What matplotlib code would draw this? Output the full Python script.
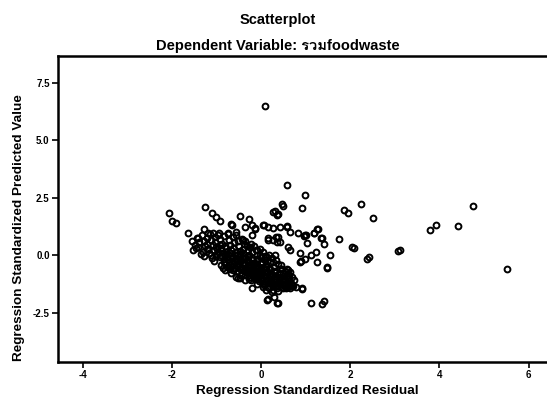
import matplotlib
matplotlib.use("Agg")
import matplotlib.pyplot as plt
from matplotlib import font_manager

# ---- data: (residual, predicted) ----
outlier_x = [0.09, 0.58, 0.99, 0.93, 1.85, 1.94, 2.24, 2.50, 4.75, 3.92, 3.79, 4.42, 5.51,
             3.11, 3.08, 2.03, 2.09, 2.37, 2.42, 1.74, 1.54, 1.49, 1.47, 1.25, 1.23, 1.12,
             0.99, 0.89, 1.27, 1.19, 1.36, 1.41, 1.03, 0.96, 0.93, 1.12, 1.37, 1.41,
             0.16, 0.37, 0.29, 0.69, 0.61, 0.91, 0.13, 0.35]
outlier_y = [6.50, 3.04, 2.60, 2.06, 1.96, 1.81, 2.20, 1.60, 2.13, 1.30, 1.07, 1.26, -0.60,
             0.22, 0.18, 0.33, 0.32, -0.17, -0.09, 0.68, 0.01, -0.57, -0.52, -0.29, 0.13, 0.00,
             -0.19, -0.26, 1.12, 0.97, 0.75, 0.47, 0.51, 0.83, -1.46, -2.07, -2.14, -1.99,
             -1.93, -2.10, -1.81, -1.30, -1.38, -1.45, -1.96, -2.10]

upper_x = [-2.06, -1.99, -1.91, -1.26, -1.10, -1.01, -0.92, -0.68, -1.63, -1.44, -1.27, -1.18,
           -1.07, -0.96, -0.73, -0.47, -0.28, -0.21, -0.13, 0.28, 0.35, 0.46, 0.49, 0.05, 0.16,
           0.28, 0.43, 0.58, 0.65, 0.84, 0.16, 0.28, 0.39, 0.43, 0.61, 0.65, 0.99, 0.87, -0.36,
           -0.66, -0.55, -0.21, -0.40, -0.25, -0.10, -0.02, 0.13, 0.31, 0.31, 0.39, 0.06, -0.14,
           0.15, 0.34, 0.35, 0.58, 1.00, 1.18, 1.26, 1.35, -1.41, 0.87, 0.61, 0.50, -0.55, -0.36,
           -0.21, -0.52, -0.80]
upper_y = [1.83, 1.49, 1.38, 2.10, 1.81, 1.67, 1.48, 1.35, 0.94, 0.75, 1.12, 0.94, 0.94, 0.87,
           0.94, 1.70, 1.55, 1.30, 1.16, 1.88, 1.74, 2.22, 2.15, 1.30, 1.23, 1.16, 1.20, 1.26,
           1.01, 0.94, 0.72, 0.65, 0.80, 0.58, 0.36, 0.22, 0.87, 0.07, 1.23, 1.30, 1.01, 0.87,
           0.65, 0.36, 0.22, 0.00, -0.07, 0.00, 1.91, 1.77, 1.30, 1.13, 0.65, 0.80, 0.57, 1.23,
           0.87, 0.94, 1.12, 0.72, 0.36, -0.29, -0.65, -1.30, -0.94, -1.09, -1.45, -0.99, -0.65]

cluster_x = [-1.55, -1.48, -1.42, -1.45, -1.38, -1.52,
             -1.33, -1.28, -1.25, -1.31, -1.22, -1.35, -1.27, -1.20,
             -1.15, -1.12, -1.08, -1.05, -1.13, -1.02, -1.10, -1.00, -1.06, -0.98,
             -0.95, -0.92, -0.88, -0.90, -0.86, -0.93, -0.84, -0.90, -0.82, -0.80, -0.85, -0.80,
             -0.75, -0.72, -0.70, -0.68, -0.74, -0.66, -0.71, -0.65, -0.70, -0.63, -0.62, -0.60, -0.67, -0.60,
             -0.55, -0.52, -0.50, -0.48, -0.54, -0.46, -0.50, -0.44, -0.52, -0.45, -0.42, -0.40, -0.41, -0.43, -0.47, -0.38,
             -0.35, -0.32, -0.30, -0.28, -0.34, -0.26, -0.30, -0.24, -0.32, -0.25, -0.22, -0.20, -0.21, -0.23, -0.28, -0.19, -0.36,
             -0.15, -0.12, -0.10, -0.08, -0.14, -0.06, -0.10, -0.04, -0.12, -0.05, -0.02, 0.00, -0.01, -0.03, -0.08, 0.01, -0.16, -0.11,
             0.05, 0.08, 0.10, 0.12, 0.06, 0.14, 0.10, 0.16, 0.08, 0.15, 0.18, 0.20, 0.19, 0.21, 0.04, 0.20, 0.03, 0.12,
             0.25, 0.28, 0.30, 0.32, 0.26, 0.34, 0.30, 0.36, 0.28, 0.38, 0.40, 0.41, 0.39, 0.24, 0.33,
             0.45, 0.48, 0.50, 0.52, 0.46, 0.54, 0.50, 0.58, 0.60, 0.57, 0.62,
             0.66, 0.70, 0.68, 0.72, 0.75, 0.78, 0.70]
cluster_y = [0.62, 0.45, 0.75, 0.30, 0.55, 0.20,
             0.85, 0.60, 0.40, 0.15, 0.72, 0.05, -0.05, 0.28,
             0.90, 0.65, 0.45, 0.20, 0.00, 0.78, -0.12, 0.35, -0.25, 0.05,
             0.95, 0.70, 0.50, 0.30, 0.10, -0.10, -0.30, -0.45, 0.82, 0.40, -0.55, 0.00,
             0.92, 0.66, 0.45, 0.22, 0.05, -0.12, -0.30, -0.48, -0.62, 0.80, 0.30, -0.25, -0.78, 0.55,
             0.85, 0.60, 0.40, 0.18, 0.00, -0.20, -0.38, -0.55, -0.70, -0.85, 0.70, 0.28, -0.05, -0.40, -0.98, 0.50,
             0.62, 0.40, 0.20, 0.02, -0.15, -0.32, -0.50, -0.65, -0.80, -0.95, 0.48, 0.12, -0.20, -0.45, -1.05, -0.75, -0.62,
             0.38, 0.20, 0.00, -0.18, -0.35, -0.52, -0.70, -0.85, -1.00, -1.15, 0.25, -0.08, -0.40, -0.65, -1.25, -0.98, -0.88, -0.52,
             0.15, -0.05, -0.22, -0.40, -0.58, -0.75, -0.92, -1.08, -1.25, -1.40, 0.00, -0.30, -0.60, -0.90, -1.38, -1.20, -0.30, -1.50,
             -0.12, -0.30, -0.50, -0.68, -0.85, -1.02, -1.18, -1.35, -1.50, -0.40, -0.80, -1.10, -1.55, -1.62, -0.20,
             -0.45, -0.62, -0.80, -0.98, -1.15, -1.30, -1.45, -0.60, -1.05, -1.38, -0.85,
             -0.72, -0.95, -1.20, -1.35, -1.10, -1.40, -1.30]

core_x = [-1.18, -1.16, -1.21, -1.03, -0.97, -1.01, -0.99, -0.89, -0.87, -0.91, -0.83,
          -0.79, -0.77, -0.81, -0.78, -0.76, -0.69, -0.67, -0.73, -0.64, -0.69,
          -0.59, -0.57, -0.61, -0.58, -0.56, -0.62, -0.49, -0.47, -0.51, -0.48, -0.46, -0.53,
          -0.39, -0.37, -0.41, -0.38, -0.36, -0.40, -0.29, -0.27, -0.31, -0.28, -0.26, -0.30,
          -0.19, -0.17, -0.21, -0.18, -0.16, -0.20, -0.22, -0.09, -0.07, -0.11, -0.08, -0.06, -0.10,
          0.01, 0.03, -0.01, 0.02, 0.04, 0.00, 0.11, 0.13, 0.09, 0.12, 0.14, 0.07,
          0.21, 0.23, 0.19, 0.22, 0.24, 0.18, 0.31, 0.33, 0.29, 0.32, 0.35,
          0.42, 0.43, 0.41, 0.44, 0.38, 0.51, 0.53, 0.49, 0.55, 0.56, 0.61, 0.63, 0.65, 0.60]
core_y = [0.25, 0.10, 0.50, 0.55, 0.15, -0.05, 0.25, 0.20, -0.02, 0.42, -0.18,
          0.15, -0.10, -0.35, 0.32, -0.50, 0.10, -0.05, -0.18, -0.35, -0.45,
          0.00, -0.15, -0.40, -0.55, 0.15, -0.65, -0.10, -0.30, -0.48, -0.62, 0.05, -0.25,
          -0.15, -0.35, -0.55, -0.70, -0.85, 0.10, -0.25, -0.42, -0.60, -0.72, -0.88, -0.10,
          -0.35, -0.55, -0.68, -0.82, -0.98, -0.15, -1.10, -0.45, -0.60, -0.78, -0.92, -1.05, -0.28,
          -0.55, -0.72, -0.85, -1.10, -1.20, -0.30, -0.50, -0.68, -0.82, -1.00, -1.15, -1.30,
          -0.62, -0.80, -0.98, -1.12, -1.30, -1.42, -0.75, -0.90, -1.05, -1.25, -1.45,
          -0.60, -0.95, -1.25, -1.40, -1.20, -0.90, -1.10, -1.25, -1.42, -0.75, -1.20, -1.30, -1.42, -0.95]

xs = outlier_x + upper_x + cluster_x + core_x
ys = outlier_y + upper_y + cluster_y + core_y

x_ticks = [-4, -2, 0, 2, 4, 6]
x_ticklabels = ["-4", "-2", "0", "2", "4", "6"]
y_ticks = [-2.5, 0.0, 2.5, 5.0, 7.5]
y_ticklabels = ["-2.5", "0.0", "2.5", "5.0", "7.5"]

title = "Scatterplot"
subtitle = "Dependent Variable: รวมfoodwaste"
xlabel = "Regression Standardized Residual"
ylabel = "Regression Standardized Predicted Value"

# find an installed family that has Thai glyphs
thai_fams = []
try:
    from fontTools.ttLib import TTFont
    for f in font_manager.fontManager.ttflist:
        if f.name in thai_fams:
            continue
        try:
            tt = TTFont(f.fname, fontNumber=0, lazy=True)
            cmap = tt.getBestCmap()
            if cmap and 0x0E23 in cmap and 0x0E27 in cmap and 0x0E21 in cmap:
                thai_fams.append(f.name)
        except Exception:
            pass
except Exception:
    pass

families = ['Liberation Sans'] + thai_fams + ['DejaVu Sans']
plt.rcParams['font.family'] = families

fig = plt.figure(figsize=(5.47, 3.98), dpi=100)
ax = fig.add_axes([0.106, 0.0905, 0.894, 0.7685])

ax.plot(xs, ys, linestyle='none', marker='o', markersize=4.2,
        markerfacecolor='none', markeredgecolor='black', markeredgewidth=1.4)

ax.set_xlim(-4.55, 6.41)
ax.set_ylim(-4.65, 8.65)
ax.set_xticks(x_ticks)
ax.set_xticklabels(x_ticklabels, fontsize=7, fontweight='bold')
ax.set_yticks(y_ticks)
ax.set_yticklabels(y_ticklabels, fontsize=7, fontweight='bold')
ax.tick_params(direction='out', length=4, width=1.2, pad=2)

for side in ['left', 'bottom', 'top']:
    ax.spines[side].set_linewidth(1.8)
ax.spines['right'].set_visible(False)

ax.set_xlabel(xlabel, fontsize=9.7, fontweight='bold')
ax.set_ylabel(ylabel, fontsize=9.7, fontweight='bold')
ax.xaxis.set_label_coords(0.51, -0.075)
ax.yaxis.set_label_coords(-0.067, 0.44)

fig.text(0.507, 0.95, title, ha='center', va='center', fontsize=10.5, fontweight='bold')
fig.text(0.507, 0.885, subtitle, ha='center', va='center', fontsize=10.5, fontweight='bold')

fig.savefig("out.png", dpi=100)
